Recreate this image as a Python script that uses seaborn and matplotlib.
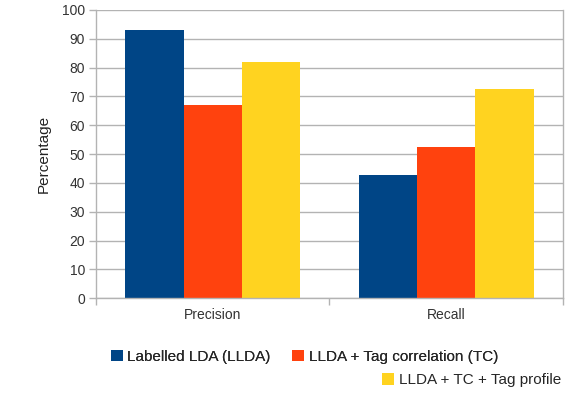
import numpy as np
import pandas as pd
import matplotlib
matplotlib.use("Agg")
import matplotlib.pyplot as plt
import seaborn as sns

# values
metrics = ["Precision", "Recall"]
methods = ["Labelled LDA (LLDA)", "LLDA + Tag correlation (TC)", "LLDA + TC + Tag profile"]
lfda_vals = [93, 42.7]
tc_vals = [67, 52.3]
tp_vals = [82, 72.5]
colors = ["#004586", "#ff420e", "#ffd320"]

df = pd.DataFrame({
    "metric": metrics * 3,
    "method": [methods[0]] * 2 + [methods[1]] * 2 + [methods[2]] * 2,
    "value": lfda_vals + tc_vals + tp_vals,
})

sns.set_theme(style="white")
plt.rcParams["font.family"] = ["Liberation Sans", "DejaVu Sans"]

fig = plt.figure(figsize=(5.65, 3.97), dpi=100)
ax = fig.add_axes([0.170, 0.249, 0.826, 0.726])

sns.barplot(data=df, x="metric", y="value", hue="method", palette=colors,
            width=0.75, saturation=1, gap=0, ax=ax, legend=True)

ax.set_ylim(0, 100)
ax.set_xlim(-0.5, 1.5)
ax.set_yticks(np.arange(0, 101, 10))
ax.yaxis.grid(True, color="#b3b3b3", linewidth=1)
ax.set_axisbelow(True)
ax.set_xlabel("")
ax.set_ylabel("Percentage", fontsize=11, color="#222222", labelpad=8)
ax.tick_params(axis="y", labelsize=10, colors="#333333", length=5, width=1,
               direction="out", left=True, color="#b3b3b3", pad=3)
ax.tick_params(axis="x", labelsize=10, colors="#333333", length=0, pad=7)
ax.set_xticks([-0.5, 0.5, 1.5], minor=True)
ax.tick_params(axis="x", which="minor", length=5, color="#b3b3b3", bottom=True)
for s in ["left", "right", "bottom"]:
    ax.spines[s].set_color("#b3b3b3")
    ax.spines[s].set_linewidth(1)
ax.spines["top"].set_visible(False)
for p in ax.patches:
    p.set_edgecolor("none")

handles, labels = ax.get_legend_handles_labels()
ax.get_legend().remove()
leg_kw = dict(frameon=False, fontsize=11, handlelength=0.8, handleheight=0.8,
              handletextpad=0.3, columnspacing=1.4, borderaxespad=0)
leg1 = fig.legend(handles[:2], labels[:2], loc="upper left",
                  bbox_to_anchor=(0.185, 0.135), ncol=2, **leg_kw)
fig.add_artist(leg1)
fig.legend(handles[2:], labels[2:], loc="upper left",
           bbox_to_anchor=(0.665, 0.075), ncol=1, **leg_kw)

fig.savefig("out.png", dpi=100)
